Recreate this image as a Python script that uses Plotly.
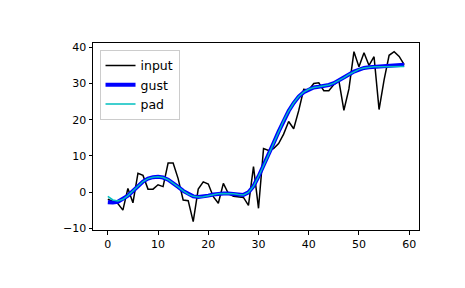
import plotly.graph_objects as go

n_points = list(range(60))
sig_input = [-2.0, -2.5, -3.2, -5.0, 1.0, -3.0, 5.2, 4.6, 0.8, 0.8,
             2.0, 1.5, 8.0, 8.0, 3.7, -2.2, -2.4, -8.2, 0.8, 2.8,
             2.2, -1.3, -3.1, 2.4, -0.4, -1.2, -1.3, -1.5, -3.7, 7.0,
             -4.5, 12.0, 11.5, 12.0, 13.4, 16.0, 19.5, 17.5, 22.5, 28.4,
             28.2, 30.0, 30.2, 28.0, 28.0, 29.7, 30.8, 22.6, 28.5, 38.8,
             34.6, 38.5, 35.0, 37.4, 22.8, 31.0, 37.8, 38.8, 37.5, 35.2]
f_gust = [-2.8, -2.9, -2.7, -2.0, -1.0, 0.3, 1.7, 2.9, 3.7, 4.1,
          4.2, 4.0, 3.4, 2.5, 1.4, 0.3, -0.6, -1.2, -1.4, -1.3,
          -1.0, -0.7, -0.5, -0.4, -0.4, -0.5, -0.7, -0.8, -0.1, 1.6,
          4.3, 7.2, 10.3, 13.5, 16.7, 19.7, 22.4, 24.6, 26.4, 27.6,
          28.4, 28.9, 29.1, 29.3, 29.6, 30.1, 30.8, 31.6, 32.5, 33.3,
          33.9, 34.3, 34.5, 34.6, 34.6, 34.7, 34.8, 34.9, 35.1, 35.2]
f_pad = [-1.2, -2.2, -2.5, -2.0, -1.0, 0.3, 1.7, 2.9, 3.7, 4.1,
         4.2, 4.0, 3.4, 2.5, 1.4, 0.3, -0.6, -1.2, -1.4, -1.3,
         -1.0, -0.7, -0.5, -0.4, -0.4, -0.5, -0.7, -0.8, -0.1, 1.6,
         4.3, 7.2, 10.3, 13.5, 16.7, 19.7, 22.4, 24.6, 26.4, 27.6,
         28.4, 28.9, 29.1, 29.3, 29.6, 30.1, 30.8, 31.6, 32.5, 33.3,
         33.9, 34.3, 34.5, 34.6, 34.6, 34.6, 34.7, 34.7, 34.7, 34.7]

fig = go.Figure()
fig.add_trace(go.Scatter(x=n_points, y=sig_input, mode="lines", name="input",
                         line=dict(color="black", width=1.5)))
fig.add_trace(go.Scatter(x=n_points, y=f_gust, mode="lines", name="gust",
                         line=dict(color="#0000ff", width=4)))
fig.add_trace(go.Scatter(x=n_points, y=f_pad, mode="lines", name="pad",
                         line=dict(color="#00bfbf", width=1.5)))

axis_common = dict(showgrid=False, zeroline=False, showline=True, linecolor="black",
                   linewidth=1, mirror=True, ticks="outside", ticklen=3.5,
                   tickwidth=1, tickcolor="black",
                   tickfont=dict(family="DejaVu Sans", size=11, color="black"))

fig.update_layout(
    width=465, height=288,
    margin=dict(l=93, r=46, t=43, b=58),
    paper_bgcolor="white", plot_bgcolor="white",
    xaxis=dict(range=[-2.95, 61.95], tickvals=[0, 10, 20, 30, 40, 50, 60], **axis_common),
    yaxis=dict(range=[-10.5, 41.2], tickvals=[-10, 0, 10, 20, 30, 40],
               ticktext=["\u221210", "0", "10", "20", "30", "40"], **axis_common),
    legend=dict(x=0.02, y=0.963, xanchor="left", yanchor="top",
                bgcolor="rgba(255,255,255,0.8)", bordercolor="#cccccc", borderwidth=1,
                font=dict(family="DejaVu Sans", size=12.5, color="black"),
                itemwidth=30, tracegroupgap=0),
    showlegend=True,
)

fig.write_html("out.html")
